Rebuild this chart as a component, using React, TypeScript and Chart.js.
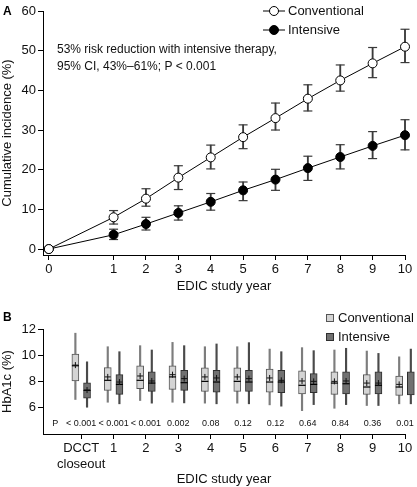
import React, { useEffect, useRef } from 'react';
import { Chart, registerables } from 'chart.js';
Chart.register(...registerables);

const FONT = '"Liberation Sans", Arial, Helvetica, sans-serif';

// ---------- Panel A data ----------
const yearLabelsA = ['0', '1', '2', '3', '4', '5', '6', '7', '8', '9', '10'];
// axis position of each year (year 0 is drawn with a break before year 1)
const yearPosA = [-1, 1, 2, 3, 4, 5, 6, 7, 8, 9, 10];
const convIncidence = [0, 8.0, 12.7, 18.0, 23.1, 28.2, 33.0, 37.9, 42.5, 46.8, 51.0];
const convLower = [null, 6.3, 10.8, 15.0, 20.2, 25.3, 30.0, 34.8, 39.8, 43.2, 47.0];
const convUpper = [null, 9.7, 15.2, 21.0, 26.2, 31.3, 36.8, 41.4, 46.4, 50.8, 55.4];
const intIncidence = [0, 3.6, 6.3, 9.1, 11.9, 14.8, 17.5, 20.4, 23.2, 26.0, 28.7];
const intLower = [null, 2.4, 4.8, 7.3, 9.8, 12.2, 14.8, 17.3, 20.2, 22.8, 25.0];
const intUpper = [null, 5.0, 8.0, 10.9, 14.0, 16.9, 20.1, 23.4, 26.3, 29.6, 32.6];
const yTicksA = [0, 10, 20, 30, 40, 50, 60];
const annotationLines = [
  '53% risk reduction with intensive therapy,',
  '95% CI, 43%\u201361%; P < 0.001',
];

// ---------- Panel B data ----------
const visitLabelsB: (string | string[])[] = [['DCCT', 'closeout'], '1', '2', '3', '4', '5', '6', '7', '8', '9', '10'];
const visitPosB = [0, 1, 2, 3, 4, 5, 6, 7, 8, 9, 10];
const pValues = ['< 0.001', '< 0.001', '< 0.001', '0.002', '0.08', '0.12', '0.12', '0.64', '0.84', '0.36', '0.01'];
const convMin = [6.63, 6.42, 6.55, 6.42, 6.35, 6.35, 6.22, 5.78, 5.96, 6.17, 6.3];
const convQ1 = [8.04, 7.32, 7.45, 7.4, 7.25, 7.25, 7.19, 7.06, 7.02, 7.02, 6.94];
const convMed = [9.2, 8.09, 8.09, 8.35, 8.01, 8.01, 7.96, 7.71, 7.88, 7.58, 7.58];
const convQ3 = [10.09, 9.06, 9.19, 9.19, 9.04, 9.04, 8.94, 8.81, 8.73, 8.52, 8.42];
const convMax = [11.68, 10.65, 10.73, 10.98, 10.65, 10.65, 10.47, 10.58, 10.4, 10.32, 9.88];
const convMean = [9.25, 8.35, 8.42, 8.52, 8.35, 8.35, 8.27, 8.04, 8.01, 7.88, 7.78];
const intMin = [6.04, 6.3, 6.35, 6.37, 6.3, 6.3, 6.12, 6.24, 6.24, 6.17, 6.3];
const intQ1 = [6.73, 7.02, 7.25, 7.32, 7.19, 7.25, 7.14, 7.14, 7.06, 7.06, 6.98];
const intMed = [7.32, 7.78, 7.88, 7.91, 7.96, 7.96, 7.96, 7.78, 7.83, 7.71, 7.78];
const intQ3 = [7.9, 8.52, 8.73, 8.86, 8.86, 8.86, 8.86, 8.6, 8.73, 8.73, 8.73];
const intMax = [9.5, 10.27, 10.4, 10.73, 10.86, 10.96, 10.27, 10.35, 10.53, 10.14, 10.47];
const intMean = [7.35, 7.96, 8.04, 8.22, 8.27, 8.22, 8.09, 8.01, 8.04, 7.88, 7.91];
const yTicksB = [6, 8, 10, 12];

const CONV_FILL = '#d4d4d4';
const CONV_EDGE = '#555555';
const INT_FILL = '#717171';
const INT_EDGE = '#2f2f2f';

const axisCommon = (size: number) => ({
  grid: { display: true, drawOnChartArea: false, drawTicks: true, tickLength: 5, color: '#000', lineWidth: 1, offset: false },
  border: { display: true, color: '#000', width: 1 },
  ticks: { color: '#111', font: { family: FONT, size }, autoSkip: false, maxRotation: 0, minRotation: 0, padding: 2 },
});

export default function App() {
  const refA = useRef<HTMLCanvasElement>(null);
  const refB = useRef<HTMLCanvasElement>(null);

  useEffect(() => {
    // ---------------- Panel A ----------------
    const pts = (vals: (number | null)[]) =>
      vals.map((v, i) => ({ x: yearPosA[i], y: v })).filter((p) => p.y !== null);
    const stems = (lo: (number | null)[], hi: (number | null)[]) =>
      lo.map((v, i) => ({ x: yearPosA[i], y: [v, hi[i]] })).filter((p) => p.y[0] !== null);
    const caps = (lo: (number | null)[], hi: (number | null)[]) => [...pts(lo), ...pts(hi)];

    const legendA = {
      id: 'legendA',
      afterDraw(chart: any) {
        const ctx = chart.ctx;
        const area = chart.chartArea;
        ctx.save();
        ctx.fillStyle = '#000';
        ctx.font = `bold 12px ${FONT}`;
        ctx.textBaseline = 'middle';
        ctx.textAlign = 'left';
        ctx.fillText('A', 3, 12);
        ctx.font = `12px ${FONT}`;
        ctx.fillStyle = '#111';
        annotationLines.forEach((t, i) => ctx.fillText(t, area.left + 14, 50 + i * 17));
        const items = [
          { label: 'Conventional', fill: '#fff' },
          { label: 'Intensive', fill: '#000' },
        ];
        items.forEach((it, i) => {
          const y = 11 + i * 19;
          ctx.strokeStyle = '#000';
          ctx.lineWidth = 1;
          ctx.beginPath();
          ctx.moveTo(263, y);
          ctx.lineTo(285, y);
          ctx.stroke();
          ctx.beginPath();
          ctx.arc(274, y, 4.5, 0, Math.PI * 2);
          ctx.fillStyle = it.fill;
          ctx.fill();
          ctx.stroke();
          ctx.fillStyle = '#111';
          ctx.font = `13px ${FONT}`;
          ctx.fillText(it.label, 288, y + 0.5);
        });
        ctx.restore();
      },
    };

    const chartA = new Chart(refA.current!, {
      type: 'line',
      data: {
        datasets: [
          {
            type: 'line', data: pts(convIncidence), borderColor: '#000', borderWidth: 1,
            pointRadius: 4.5, pointBackgroundColor: '#fff', pointBorderColor: '#000', pointBorderWidth: 1, clip: false,
          } as any,
          {
            type: 'line', data: pts(intIncidence), borderColor: '#000', borderWidth: 1,
            pointRadius: 4.5, pointBackgroundColor: '#000', pointBorderColor: '#000', pointBorderWidth: 1, clip: false,
          },
          {
            type: 'bar', data: stems(convLower, convUpper), backgroundColor: '#3a3a3a', barThickness: 1.2,
            grouped: false, clip: false,
          },
          {
            type: 'bar', data: stems(intLower, intUpper), backgroundColor: '#3a3a3a', barThickness: 1.2,
            grouped: false, clip: false,
          },
          {
            type: 'scatter', data: caps(convLower, convUpper), pointStyle: 'line', pointRadius: 4.5,
            borderColor: '#3a3a3a', pointBorderColor: '#3a3a3a', pointBorderWidth: 1.2, clip: false,
          },
          {
            type: 'scatter', data: caps(intLower, intUpper), pointStyle: 'line', pointRadius: 4.5,
            borderColor: '#3a3a3a', pointBorderColor: '#3a3a3a', pointBorderWidth: 1.2, clip: false,
          },
        ] as any,
      },
      options: {
        animation: false,
        responsive: false,
        events: [],
        layout: { padding: { top: 11, right: 12, left: 0, bottom: 0 } },
        plugins: { legend: { display: false }, tooltip: { enabled: false } },
        scales: {
          x: {
            type: 'linear', min: -1.18, max: 10, offset: false,
            ...axisCommon(13),
            ticks: {
              ...axisCommon(13).ticks,
              callback: (v: any) => {
                const i = yearPosA.indexOf(Number(v));
                return i >= 0 ? yearLabelsA[i] : '';
              },
            },
            afterBuildTicks: (s: any) => { s.ticks = yearPosA.map((v) => ({ value: v })); },
            afterFit: (s: any) => { s.height = 45; },
            title: { display: true, text: 'EDIC study year', color: '#111', font: { family: FONT, size: 13 }, padding: { top: 0, bottom: 6 } },
          },
          y: {
            type: 'linear', min: -1.5, max: 60,
            ...axisCommon(13),
            afterBuildTicks: (s: any) => { s.ticks = yTicksA.map((v) => ({ value: v })); },
            afterFit: (s: any) => { s.width = 43; },
            title: { display: true, text: 'Cumulative incidence (%)', color: '#111', font: { family: FONT, size: 13 }, padding: 0 },
          },
        },
      } as any,
      plugins: [legendA],
    });

    // ---------------- Panel B ----------------
    const OFF = 0.18;
    const at = (vals: number[], d: number) => vals.map((v, i) => ({ x: visitPosB[i] + d, y: v }));
    const range = (lo: number[], hi: number[], d: number) => lo.map((v, i) => ({ x: visitPosB[i] + d, y: [v, hi[i]] }));

    const legendB = {
      id: 'legendB',
      afterDraw(chart: any) {
        const ctx = chart.ctx;
        const xs = chart.scales.x;
        const ys = chart.scales.y;
        ctx.save();
        ctx.fillStyle = '#000';
        ctx.font = `bold 12px ${FONT}`;
        ctx.textBaseline = 'middle';
        ctx.textAlign = 'left';
        ctx.fillText('B', 3, 18);
        const items = [
          { label: 'Conventional', fill: CONV_FILL, edge: CONV_EDGE },
          { label: 'Intensive', fill: INT_FILL, edge: INT_EDGE },
        ];
        items.forEach((it, i) => {
          const y = 18 + i * 19;
          ctx.fillStyle = it.fill;
          ctx.fillRect(326, y - 4, 8, 8);
          ctx.strokeStyle = it.edge;
          ctx.lineWidth = 1;
          ctx.strokeRect(326.5, y - 3.5, 7, 7);
          ctx.fillStyle = '#111';
          ctx.font = `13px ${FONT}`;
          ctx.fillText(it.label, 338, y + 0.5);
        });
        ctx.font = `9px ${FONT}`;
        ctx.textAlign = 'center';
        ctx.fillStyle = '#111';
        const py = ys.getPixelForValue(4.8);
        ctx.fillText('P', xs.getPixelForValue(-0.8), py);
        pValues.forEach((p, i) => ctx.fillText(p, xs.getPixelForValue(visitPosB[i]), py));
        ctx.restore();
      },
    };

    const chartB = new Chart(refB.current!, {
      type: 'bar',
      data: {
        datasets: [
          { type: 'scatter', data: at(convMean, -OFF), pointStyle: 'cross', pointRadius: 3, pointBorderColor: '#111', borderColor: '#111', pointBorderWidth: 1, clip: false },
          { type: 'scatter', data: at(intMean, OFF), pointStyle: 'cross', pointRadius: 3, pointBorderColor: '#111', borderColor: '#111', pointBorderWidth: 1, clip: false },
          { type: 'scatter', data: at(convMed, -OFF), pointStyle: 'line', pointRadius: 3.5, pointBorderColor: '#000', borderColor: '#000', pointBorderWidth: 1.2, clip: false },
          { type: 'scatter', data: at(intMed, OFF), pointStyle: 'line', pointRadius: 3.5, pointBorderColor: '#000', borderColor: '#000', pointBorderWidth: 1.2, clip: false },
          { type: 'bar', data: range(convQ1, convQ3, -OFF), backgroundColor: CONV_FILL, borderColor: CONV_EDGE, borderWidth: 1, borderSkipped: false, barThickness: 7, grouped: false, clip: false },
          { type: 'bar', data: range(intQ1, intQ3, OFF), backgroundColor: INT_FILL, borderColor: INT_EDGE, borderWidth: 1, borderSkipped: false, barThickness: 7, grouped: false, clip: false },
          { type: 'bar', data: range(convMin, convMax, -OFF), backgroundColor: '#7d7d7d', barThickness: 1.5, grouped: false, clip: false },
          { type: 'bar', data: range(intMin, intMax, OFF), backgroundColor: '#4a4a4a', barThickness: 1.5, grouped: false, clip: false },
        ] as any,
      },
      options: {
        animation: false,
        responsive: false,
        events: [],
        layout: { padding: { top: 29, right: 12, left: 0, bottom: 0 } },
        plugins: { legend: { display: false }, tooltip: { enabled: false } },
        scales: {
          x: {
            type: 'linear', min: -1.18, max: 10, offset: false,
            ...axisCommon(13),
            ticks: {
              ...axisCommon(13).ticks,
              padding: 2,
              callback: (v: any) => {
                const i = visitPosB.indexOf(Number(v));
                return i >= 0 ? visitLabelsB[i] : '';
              },
            },
            afterBuildTicks: (s: any) => { s.ticks = visitPosB.map((v) => ({ value: v })); },
            afterFit: (s: any) => { s.height = 53; },
            title: { display: true, text: 'EDIC study year', color: '#111', font: { family: FONT, size: 13 }, padding: { top: 0, bottom: 0 } },
          },
          y: {
            type: 'linear', min: 4, max: 12, beginAtZero: false,
            ...axisCommon(13),
            afterBuildTicks: (s: any) => { s.ticks = yTicksB.map((v) => ({ value: v })); },
            afterFit: (s: any) => { s.width = 43; },
            title: { display: true, text: 'HbA1c (%)', color: '#111', font: { family: FONT, size: 13 }, padding: 0 },
          },
        },
      } as any,
      plugins: [legendB],
    });

    return () => {
      chartA.destroy();
      chartB.destroy();
    };
  }, []);

  return (
    <div style={{ position: 'absolute', left: 0, top: 0, width: 417, height: 487, background: '#fff' }}>
      <canvas ref={refA} width={417} height={300} style={{ position: 'absolute', left: 0, top: 0 }} />
      <canvas ref={refB} width={417} height={187} style={{ position: 'absolute', left: 0, top: 300 }} />
    </div>
  );
}
